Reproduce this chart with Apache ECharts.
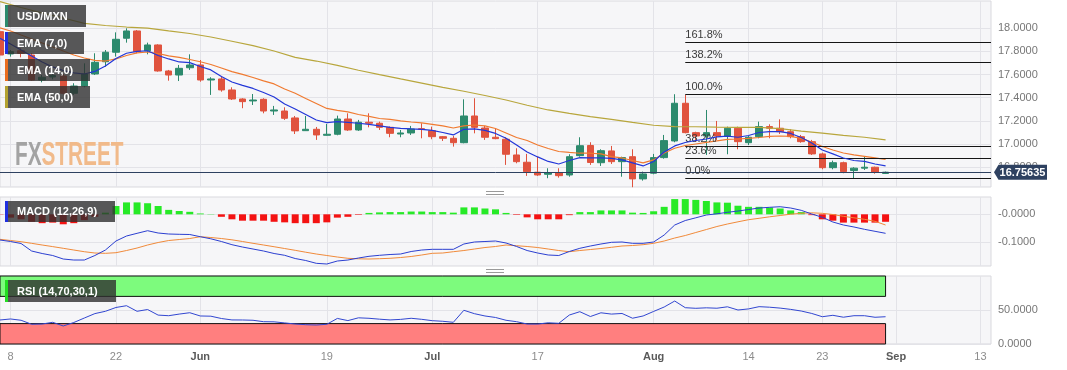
<!DOCTYPE html>
<html>
<head>
<meta charset="utf-8">
<script src="https://cdn.jsdelivr.net/npm/echarts@6/dist/echarts.min.js"></script>
<style>
html,body{margin:0;padding:0;background:#fff;}
#c{width:1067px;height:370px;}
</style>
</head>
<body>
<div id="c"></div>
<script>
// Trading-day categories (2023), May 5 .. Sep 14
const CATS = ['05-05','05-08','05-09','05-10','05-11','05-12','05-15','05-16','05-17','05-18','05-19','05-22','05-23','05-24','05-25','05-26','05-29','05-30','05-31','06-01','06-02','06-05','06-06','06-07','06-08','06-09','06-12','06-13','06-14','06-15','06-16','06-19','06-20','06-21','06-22','06-23','06-26','06-27','06-28','06-29','06-30','07-03','07-04','07-05','07-06','07-07','07-10','07-11','07-12','07-13','07-14','07-17','07-18','07-19','07-20','07-21','07-24','07-25','07-26','07-27','07-28','07-31','08-01','08-02','08-03','08-04','08-07','08-08','08-09','08-10','08-11','08-14','08-15','08-16','08-17','08-18','08-21','08-22','08-23','08-24','08-25','08-28','08-29','08-30','08-31','09-01','09-04','09-05','09-06','09-07','09-08','09-11','09-12','09-13','09-14'];

const TICK_DATES = ['05-08','05-22','06-01','06-19','07-03','07-17','08-01','08-14','08-23','09-01','09-13'];
const TICK_TEXT  = ['8','22','Jun','19','Jul','17','Aug','14','23','Sep','13'];

const OPEN = [17.971,17.778,17.806,17.769,17.553,17.579,17.588,17.438,17.501,17.605,
17.711,17.793,17.914,17.977,17.806,17.856,17.631,17.596,17.659,17.683,
17.553,17.562,17.467,17.389,17.372,17.386,17.285,17.285,17.225,17.115,
17.127,17.075,17.084,17.216,17.121,17.188,17.179,17.144,17.086,17.095,
17.132,17.115,17.063,17.049,17.011,17.242,17.138,17.058,17.041,16.905,
16.842,16.756,16.738,16.752,16.732,16.899,16.987,16.838,16.940,16.847,
16.890,16.698,16.747,16.882,17.026,17.352,17.098,17.069,17.098,17.069,
17.136,17.011,17.063,17.150,17.136,17.106,17.063,17.020,16.914,16.795,
16.838,16.770,16.791,16.799,16.745];
const HIGH = [17.985,17.812,17.827,17.784,17.596,17.616,17.605,17.525,17.697,17.784,
17.812,17.965,18.000,17.985,17.876,17.862,17.640,17.683,17.775,17.726,
17.577,17.588,17.490,17.395,17.432,17.395,17.329,17.317,17.242,17.242,
17.147,17.173,17.245,17.265,17.208,17.265,17.193,17.150,17.121,17.156,
17.179,17.150,17.069,17.069,17.386,17.395,17.156,17.130,17.058,16.963,
16.914,16.890,16.790,16.790,16.911,17.058,17.015,16.954,16.983,16.890,
16.954,16.761,16.914,17.078,17.430,17.424,17.106,17.294,17.199,17.150,
17.150,17.069,17.193,17.170,17.213,17.127,17.078,17.035,16.925,16.856,
16.847,16.799,16.890,16.804,16.761];
const LOW = [17.752,17.755,17.749,17.547,17.533,17.559,17.429,17.424,17.490,17.596,
17.668,17.755,17.876,17.784,17.775,17.625,17.547,17.544,17.640,17.538,
17.424,17.452,17.380,17.309,17.337,17.265,17.251,17.208,17.086,17.113,
17.035,17.072,17.075,17.113,17.113,17.144,17.121,17.058,17.058,17.078,
17.049,17.041,17.026,16.977,17.006,17.092,17.035,17.041,16.819,16.833,
16.724,16.724,16.704,16.709,16.717,16.890,16.819,16.810,16.827,16.717,
16.626,16.683,16.738,16.873,17.015,17.092,17.020,16.905,17.035,16.911,
16.954,16.991,17.049,17.049,17.086,17.049,17.011,16.905,16.781,16.781,
16.747,16.698,16.775,16.743,16.741];
const CLOSE = [17.769,17.798,17.784,17.553,17.577,17.592,17.438,17.501,17.605,17.706,
17.793,17.905,17.977,17.798,17.856,17.631,17.596,17.654,17.683,17.553,
17.562,17.467,17.389,17.366,17.380,17.285,17.294,17.222,17.113,17.127,
17.078,17.084,17.216,17.121,17.188,17.179,17.144,17.092,17.095,17.130,
17.127,17.063,17.049,17.011,17.242,17.144,17.058,17.046,16.911,16.847,
16.761,16.732,16.749,16.726,16.890,16.985,16.840,16.942,16.847,16.882,
16.698,16.741,16.882,17.029,17.352,17.098,17.069,17.098,17.069,17.136,
17.020,17.058,17.150,17.136,17.106,17.063,17.020,16.914,16.795,16.838,
16.761,16.791,16.799,16.756,16.756];

const EMA7 = [17.914,17.864,17.812,17.761,17.709,17.666,17.635,17.614,17.605,17.627,
17.674,17.739,17.784,17.800,17.806,17.765,17.735,17.709,17.703,17.670,
17.640,17.583,17.536,17.506,17.480,17.445,17.406,17.346,17.303,17.255,
17.207,17.184,17.193,17.186,17.179,17.169,17.156,17.144,17.134,17.130,
17.127,17.117,17.099,17.078,17.127,17.130,17.117,17.091,17.049,16.991,
16.931,16.888,16.849,16.827,16.857,16.882,16.879,16.879,16.876,16.862,
16.836,16.810,16.849,16.931,16.983,17.013,17.030,17.043,17.061,17.067,
17.058,17.073,17.099,17.106,17.106,17.091,17.056,17.009,16.948,16.914,
16.879,16.857,16.849,16.827,16.810];
const EMA14 = [18.003,17.977,17.942,17.908,17.873,17.838,17.804,17.769,17.743,17.722,
17.717,17.735,17.765,17.787,17.795,17.782,17.761,17.748,17.730,17.711,
17.687,17.657,17.625,17.601,17.575,17.545,17.519,17.475,17.438,17.393,
17.350,17.307,17.290,17.277,17.255,17.238,17.220,17.212,17.199,17.190,
17.182,17.169,17.156,17.138,17.156,17.164,17.156,17.134,17.095,17.056,
17.030,16.991,16.961,16.935,16.927,16.920,16.920,16.914,16.890,16.879,
16.857,16.836,16.862,16.922,16.963,16.987,17.000,17.013,17.026,17.039,
17.043,17.048,17.056,17.065,17.069,17.065,17.048,17.017,16.978,16.948,
16.922,16.905,16.892,16.879,16.866];
const EMA50_IDX = [0,2,4,6,8,10,12,14,16,18,20,22,24,26,28,30,32,34,36,38,40,42,44,46,48,50,52,54,56,58,60,62,64,66,68,70,72,74,76,78,80,82,84];
const EMA50 = [18.230,18.180,18.132,18.089,18.042,18.024,18.011,18.001,17.977,17.955,
17.925,17.888,17.850,17.804,17.748,17.717,17.680,17.637,17.599,17.562,
17.526,17.490,17.456,17.419,17.380,17.335,17.294,17.264,17.236,17.213,
17.186,17.162,17.150,17.149,17.145,17.144,17.143,17.133,17.111,17.093,
17.074,17.058,17.035];

const MACD = [-0.0928,-0.0982,-0.1054,-0.1325,-0.1415,-0.1487,-0.1614,-0.1650,-0.1650,-0.1487,
-0.1289,-0.0964,-0.0783,-0.0686,-0.0592,-0.0675,-0.0711,-0.0722,-0.0729,-0.0809,
-0.0884,-0.0982,-0.1097,-0.1181,-0.1253,-0.1325,-0.1415,-0.1480,-0.1596,-0.1668,
-0.1769,-0.1794,-0.1686,-0.1650,-0.1578,-0.1516,-0.1480,-0.1451,-0.1433,-0.1343,
-0.1289,-0.1264,-0.1264,-0.1264,-0.1072,-0.1000,-0.0982,-0.0964,-0.1036,-0.1162,
-0.1307,-0.1397,-0.1469,-0.1487,-0.1343,-0.1227,-0.1144,-0.1072,-0.1011,-0.1000,
-0.1047,-0.1047,-0.1000,-0.0747,-0.0386,-0.0224,-0.0126,-0.0025,0.0018,0.0072,
0.0119,0.0173,0.0227,0.0253,0.0274,0.0227,0.0144,0.0011,-0.0108,-0.0278,
-0.0386,-0.0458,-0.0542,-0.0614,-0.0686];
const SIGNAL = [-0.0903,-0.0946,-0.0989,-0.1047,-0.1108,-0.1166,-0.1227,-0.1289,-0.1350,-0.1397,
-0.1408,-0.1386,-0.1307,-0.1217,-0.1108,-0.1018,-0.0946,-0.0910,-0.0874,-0.0809,
-0.0838,-0.0874,-0.0921,-0.0982,-0.1047,-0.1108,-0.1170,-0.1235,-0.1300,-0.1368,
-0.1433,-0.1487,-0.1542,-0.1588,-0.1606,-0.1614,-0.1603,-0.1588,-0.1560,-0.1523,
-0.1469,-0.1408,-0.1397,-0.1350,-0.1307,-0.1253,-0.1199,-0.1162,-0.1108,-0.1134,
-0.1162,-0.1199,-0.1253,-0.1307,-0.1350,-0.1307,-0.1271,-0.1235,-0.1191,-0.1144,
-0.1126,-0.1097,-0.1047,-0.0964,-0.0856,-0.0765,-0.0657,-0.0549,-0.0440,-0.0350,
-0.0271,-0.0195,-0.0144,-0.0090,-0.0043,0.0004,0.0036,0.0054,0.0036,-0.0007,
-0.0072,-0.0126,-0.0181,-0.0253,-0.0386];
const HIST = [-0.001,-0.012,-0.018,-0.027,-0.032,-0.030,-0.036,-0.032,-0.021,-0.009,
0.006,0.030,0.043,0.043,0.040,0.030,0.016,0.012,0.009,0.003,
0.001,-0.009,-0.018,-0.023,-0.023,-0.023,-0.027,-0.029,-0.032,-0.032,
-0.032,-0.029,-0.012,-0.009,-0.002,0.005,0.007,0.008,0.008,0.010,
0.010,0.008,0.008,0.006,0.025,0.025,0.021,0.018,0.005,-0.002,
-0.011,-0.018,-0.018,-0.018,-0.003,0.008,0.008,0.014,0.014,0.014,
0.006,0.005,0.011,0.027,0.055,0.055,0.052,0.048,0.043,0.042,
0.031,0.027,0.027,0.025,0.021,0.014,0.008,-0.003,-0.018,-0.023,
-0.030,-0.030,-0.030,-0.030,-0.027];
const RSI = [35.3,36.8,34.9,29.0,29.4,31.9,26.5,31.6,38.2,44.7,
48.1,53.7,56.3,48.1,50.7,42.5,41.6,44.0,46.0,41.2,
40.9,37.5,35.4,35.3,34.9,32.8,32.6,31.0,29.4,28.4,
27.9,29.0,37.6,34.4,38.5,37.8,36.5,35.4,36.2,37.8,
36.3,34.3,33.4,31.9,49.6,44.6,41.2,39.0,34.9,32.8,
29.4,29.3,31.2,30.4,42.6,47.5,40.4,45.9,44.0,44.9,
37.9,41.2,47.9,54.4,63.2,53.4,52.5,53.2,52.6,54.7,
50.0,51.6,54.9,54.1,52.8,50.9,48.5,44.9,40.1,42.2,
39.4,41.6,41.6,39.3,40.1];

const FIB_LEVELS = [16.704,16.876,16.979,17.432,17.708,17.876];
const FIB_TEXT = ['0.0%','23.6%','38.2%','100.0%','138.2%','161.8%'];
const FIB_START = '08-04';
const LAST_PRICE = 16.75635;

const PRICE_TICKS = [16.8,17.0,17.2,17.4,17.6,17.8,18.0];
const MACD_TICKS = [-0.1,0];
const RSI_TICKS = [0,50];
const RSI_UPPER = 70, RSI_LOWER = 30;

// ---------------------------------------------------------------
const FONT = 'Liberation Sans, Arial, sans-serif';
const GRID_BG = '#f6f6f8', GRID_BORDER = '#d9d9de', SPLIT = '#e3e3e8';
const UP = '#2c8a6d', DOWN = '#e0533e';
const isTick = (idx, val) => TICK_DATES.indexOf(val) >= 0;
const lastIdx = CATS.length - 1;

const candleData = OPEN.map((o, i) => [o, CLOSE[i], LOW[i], HIGH[i]]);

function xAxisFor(gi, showLabels) {
  return {
    type: 'category', gridIndex: gi, data: CATS, boundaryGap: false,
    axisLine: {show: false}, axisTick: {show: false},
    axisLabel: showLabels ? {
      show: true, interval: isTick, margin: 7,
      formatter: v => {
        const k = TICK_DATES.indexOf(v);
        if (k < 0) return '';
        const t = TICK_TEXT[k];
        return /^[A-Z]/.test(t) ? '{m|' + t + '}' : '{d|' + t + '}';
      },
      rich: {
        m: {fontFamily: FONT, fontSize: 11, fontWeight: 'bold', color: '#5a5a5a'},
        d: {fontFamily: FONT, fontSize: 11, color: '#8c8c8c'}
      }
    } : {show: false},
    splitLine: {show: true, interval: isTick, lineStyle: {color: SPLIT, width: 1}}
  };
}
function yAxisFor(gi, min, max, ticks, fmt) {
  return {
    type: 'value', gridIndex: gi, position: 'right', min: min, max: max, scale: true,
    axisLine: {show: false},
    axisTick: {show: false, customValues: ticks},
    axisLabel: {show: true, customValues: ticks, margin: 7, color: '#777', fontSize: 11, fontFamily: FONT, formatter: fmt},
    splitLine: {show: true, lineStyle: {color: SPLIT, width: 1}}
  };
}
const gridBase = {left: 0, right: 76, show: true, backgroundColor: GRID_BG, borderColor: GRID_BORDER, borderWidth: 1, containLabel: false, outerBoundsMode: 'none'};

const markLineData = [
  [{coord: [CATS[0], LAST_PRICE], lineStyle: {color: '#2e4160', width: 1}, label: {show: false}},
   {coord: [CATS[lastIdx], LAST_PRICE]}]
].concat(FIB_LEVELS.map((v, k) => [
  {coord: [FIB_START, v], name: FIB_TEXT[k]},
  {coord: [CATS[lastIdx], v]}
]));

function legendBox(id, x, y, w, h, barColor, text) {
  return {
    type: 'group', id: id, z: 100,
    children: [
      {type: 'rect', shape: {x: x, y: y, width: w, height: h}, style: {fill: 'rgba(48,48,48,0.8)'}, z: 100},
      {type: 'rect', shape: {x: x, y: y, width: 3, height: h}, style: {fill: barColor}, z: 101},
      {type: 'text', x: x + 12, y: y + h / 2 + 0.5, z: 101,
       style: {text: text, fill: '#ffffff', font: 'bold 11px ' + FONT, verticalAlign: 'middle', align: 'left'}}
    ]
  };
}

const graphics = [
  {type: 'text', id: 'wmFX', x: 15, y: 156, scaleX: 0.63, z: 1,
   style: {text: 'FX', fill: '#a3a3a3', font: 'bold 33px ' + FONT, verticalAlign: 'middle'}},
  {type: 'text', id: 'wmST', x: 41.5, y: 156, scaleX: 0.63, z: 1,
   style: {text: 'STREET', fill: '#f1ba8a', font: 'bold 33px ' + FONT, verticalAlign: 'middle'}},
  legendBox('lg1', 5, 5, 81, 22, '#2c8a6d', 'USD/MXN'),
  legendBox('lg2', 5, 32, 79, 22, '#1f2fe0', 'EMA (7,0)'),
  legendBox('lg3', 5, 59, 85, 22, '#ea6d1f', 'EMA (14,0)'),
  legendBox('lg4', 5, 86, 85, 22, '#b3a230', 'EMA (50,0)'),
  legendBox('lg5', 5, 201, 110, 21, '#1f2fe0', 'MACD (12,26,9)'),
  legendBox('lg6', 5, 280, 111, 22, '#22dd22', 'RSI (14,70,30,1)'),
  {type: 'line', id: 'sep1a', shape: {x1: 486, y1: 191.5, x2: 504, y2: 191.5}, style: {stroke: '#9a9a9a', lineWidth: 1}, z: 50},
  {type: 'line', id: 'sep1b', shape: {x1: 486, y1: 194.5, x2: 504, y2: 194.5}, style: {stroke: '#9a9a9a', lineWidth: 1}, z: 50},
  {type: 'line', id: 'sep2a', shape: {x1: 486, y1: 269.5, x2: 504, y2: 269.5}, style: {stroke: '#9a9a9a', lineWidth: 1}, z: 50},
  {type: 'line', id: 'sep2b', shape: {x1: 486, y1: 272.5, x2: 504, y2: 272.5}, style: {stroke: '#9a9a9a', lineWidth: 1}, z: 50}
];

const option = {
  animation: false,
  backgroundColor: '#ffffff',
  textStyle: {fontFamily: FONT},
  grid: [
    Object.assign({}, gridBase, {top: 1, height: 186}),
    Object.assign({}, gridBase, {top: 197, height: 69}),
    Object.assign({}, gridBase, {top: 276, height: 68})
  ],
  xAxis: [xAxisFor(0, false), xAxisFor(1, false), xAxisFor(2, true)],
  yAxis: [
    yAxisFor(0, 16.628, 18.236, PRICE_TICKS, v => v.toFixed(4)),
    yAxisFor(1, -0.1866, 0.0625, MACD_TICKS, v => (v === 0 ? '-0.0000' : v.toFixed(4))),
    yAxisFor(2, 0, 100, RSI_TICKS, v => v.toFixed(4))
  ],
  series: [
    {
      name: 'USD/MXN', type: 'candlestick', xAxisIndex: 0, yAxisIndex: 0,
      data: candleData, barWidth: 7, z: 3,
      itemStyle: {color: UP, color0: DOWN, borderColor: UP, borderColor0: DOWN, borderWidth: 1},
      markLine: {
        silent: true, symbol: ['none', 'none'], animation: false,
        lineStyle: {color: '#151515', width: 1.2, type: 'solid'},
        label: {show: true, position: 'insideStartTop', formatter: '{b}', color: '#3a3a3a',
                fontSize: 11, fontFamily: FONT, distance: [0, 2]},
        data: markLineData
      }
    },
    {name: 'EMA50', type: 'line', xAxisIndex: 0, yAxisIndex: 0, z: 4,
     data: EMA50_IDX.map((k, j) => [k, EMA50[j]]), showSymbol: false,
     lineStyle: {color: '#b8a63c', width: 1.2}},
    {name: 'EMA14', type: 'line', xAxisIndex: 0, yAxisIndex: 0, z: 4,
     data: EMA14, showSymbol: false, lineStyle: {color: '#f07a30', width: 1.2}},
    {name: 'EMA7', type: 'line', xAxisIndex: 0, yAxisIndex: 0, z: 5,
     data: EMA7, showSymbol: false, lineStyle: {color: '#2236d8', width: 1.2}},
    {name: 'Hist', type: 'bar', xAxisIndex: 1, yAxisIndex: 1, barWidth: 7, z: 2,
     data: HIST.map(v => ({value: v, itemStyle: {color: v >= 0 ? '#27ea27' : '#f41212'}}))},
    {name: 'MACD', type: 'line', xAxisIndex: 1, yAxisIndex: 1, z: 4,
     data: MACD, showSymbol: false, lineStyle: {color: '#2b3fd0', width: 1}},
    {name: 'Signal', type: 'line', xAxisIndex: 1, yAxisIndex: 1, z: 3,
     data: SIGNAL, showSymbol: false, lineStyle: {color: '#f08a3a', width: 1}},
    {name: 'RSI', type: 'line', xAxisIndex: 2, yAxisIndex: 2, z: 4,
     data: RSI, showSymbol: false, lineStyle: {color: '#3146d0', width: 1},
     markArea: {
       silent: true,
       data: [
         [{coord: [CATS[0], RSI_UPPER], itemStyle: {color: '#7dfb7d', borderColor: '#111', borderWidth: 1, opacity: 1}},
          {coord: [CATS[CLOSE.length - 1], 100]}],
         [{coord: [CATS[0], 0], itemStyle: {color: '#ff7f7f', borderColor: '#111', borderWidth: 1, opacity: 1}},
          {coord: [CATS[CLOSE.length - 1], RSI_LOWER]}]
       ]
     }}
  ],
  graphic: graphics
};

const chart = echarts.init(document.getElementById('c'), null, {renderer: 'canvas', width: 1067, height: 370});
chart.setOption(option);

// Last-price tag on the right axis, positioned through the price scale
const py = chart.convertToPixel({xAxisIndex: 0, yAxisIndex: 0}, [0, LAST_PRICE])[1];
chart.setOption({
  graphic: [
    {type: 'polygon', id: 'tag', z: 120,
     shape: {points: [[994, py], [998.5, py - 7.5], [1047, py - 7.5], [1047, py + 7.5], [998.5, py + 7.5]]},
     style: {fill: '#2e4160'}},
    {type: 'text', id: 'tagText', z: 121, x: 1022.5, y: py + 0.5,
     style: {text: LAST_PRICE.toFixed(5), fill: '#ffffff', font: 'bold 11px ' + FONT, align: 'center', verticalAlign: 'middle'}}
  ]
});
</script>
</body>
</html>
